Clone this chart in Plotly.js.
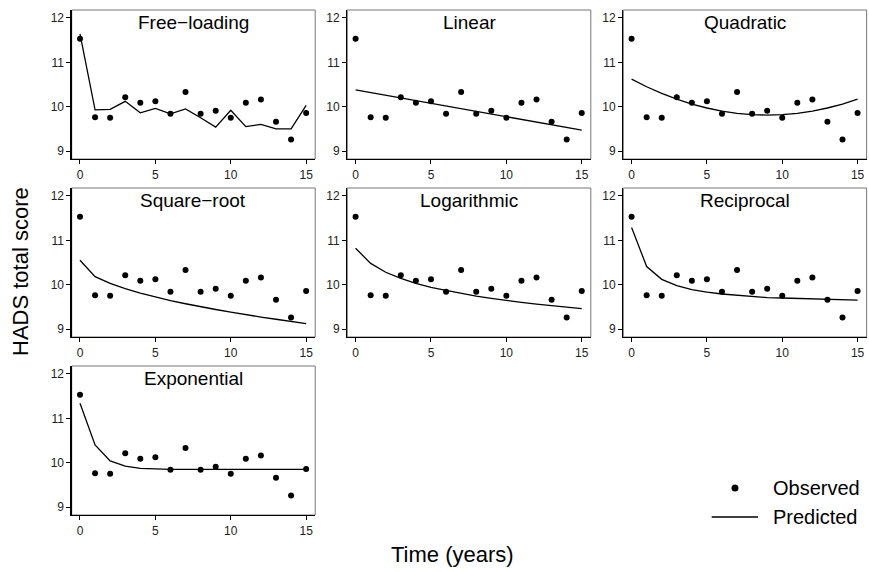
<!DOCTYPE html>
<html>
<head>
<meta charset="utf-8">
<script src="https://cdn.plot.ly/plotly-3.0.1.min.js"></script>
<style>html,body{margin:0;padding:0;background:#fff;}#chart{width:869px;height:572px;}</style>
</head>
<body>
<div id="chart"></div>
<script>
// ---- data ----
const years = [0,1,2,3,4,5,6,7,8,9,10,11,12,13,14,15];
const observed = [11.53,9.76,9.75,10.21,10.09,10.12,9.84,10.33,9.84,9.91,9.75,10.09,10.16,9.66,9.26,9.86];
const panelTitles = ["Free\u2212loading","Linear","Quadratic","Square\u2212root","Logarithmic","Reciprocal","Exponential"];
const predFreeLoading = [11.64,9.93,9.94,10.12,9.86,9.96,9.84,9.95,9.75,9.54,9.92,9.55,9.60,9.50,9.50,10.03];
const predLinear      = [10.38,10.32,10.26,10.20,10.14,10.08,10.02,9.96,9.90,9.83,9.77,9.71,9.65,9.59,9.53,9.47];
const predQuadratic   = [10.62,10.45,10.30,10.17,10.06,9.97,9.90,9.85,9.82,9.81,9.82,9.85,9.90,9.97,10.06,10.17];
const predSqrt        = [10.55,10.18,10.03,9.91,9.81,9.72,9.64,9.57,9.50,9.44,9.38,9.32,9.27,9.22,9.17,9.12];
const predLog         = [10.82,10.48,10.28,10.14,10.03,9.94,9.87,9.80,9.74,9.69,9.64,9.60,9.56,9.53,9.49,9.46];
const predReciprocal  = [11.29,10.41,10.12,9.98,9.89,9.83,9.79,9.76,9.73,9.71,9.70,9.69,9.67,9.66,9.66,9.65];
const predExponential = [11.34,10.40,10.04,9.92,9.87,9.855,9.85,9.85,9.85,9.85,9.85,9.85,9.85,9.85,9.85,9.85];
const predicted = [predFreeLoading,predLinear,predQuadratic,predSqrt,predLog,predReciprocal,predExponential];
const xTicks = [0,5,10,15];
const yTicks = [9,10,11,12];
const legendLabels = ["Observed","Predicted"];
const yTitle = "HADS total score";
const xTitle = "Time (years)";

// ---- layout geometry (pixels) ----
const W = 869, H = 572;
const colsPx = [[71.7,315.2],[347.3,590.8],[623.3,866.6]];
const rowsPx = [[10,159],[188,337],[366,515]];
const FONT = "Liberation Sans, Arial, Helvetica, sans-serif";

const traces = [];
const layout = {
  width: W, height: H,
  margin: {l:0,r:0,t:0,b:0},
  paper_bgcolor: "#fff", plot_bgcolor: "#fff",
  showlegend: false,
  font: {family: FONT, color: "#000"},
  shapes: [], annotations: []
};

panelTitles.forEach((title, i) => {
  const r = Math.floor(i/3), c = i%3;
  const sfx = i===0 ? "" : String(i+1);
  const xa = "x"+sfx, ya = "y"+sfx;
  const xd = [colsPx[c][0]/W, colsPx[c][1]/W];
  const yd = [1-rowsPx[r][1]/H, 1-rowsPx[r][0]/H];
  layout["xaxis"+sfx] = {
    domain: xd, anchor: ya, range: [-0.55,15.6],
    tickvals: xTicks, ticktext: xTicks.map(String),
    ticks: "outside", ticklen: 4, tickwidth: 1, tickcolor: "#000",
    showline: true, linecolor: "#000", linewidth: 1.3,
    showgrid: false, zeroline: false, fixedrange: true,
    tickfont: {family: FONT, size: 12, color: "#222"}
  };
  layout["yaxis"+sfx] = {
    domain: yd, anchor: xa, range: [8.82,12.18],
    tickvals: yTicks, ticktext: yTicks.map(String),
    ticks: "outside", ticklen: 4, tickwidth: 1, tickcolor: "#000",
    showline: true, linecolor: "#000", linewidth: 1.3,
    showgrid: false, zeroline: false, fixedrange: true,
    tickfont: {family: FONT, size: 12, color: "#222"}
  };
  layout.shapes.push({type:"rect", xref: xa+" domain", yref: ya+" domain",
    x0:0, x1:1, y0:0, y1:1, line:{color:"#777", width:1}, layer:"below"});
  layout.annotations.push({text: title, xref: xa+" domain", yref: ya+" domain",
    x:0.5, y:1, xanchor:"center", yanchor:"top", yshift:0, showarrow:false,
    font:{family: FONT, size: 19, color:"#000"}});
  traces.push({type:"scatter", mode:"markers", x: years, y: observed, xaxis: xa, yaxis: ya,
    name: legendLabels[0], marker:{color:"#000", size:6}, hoverinfo:"skip"});
  traces.push({type:"scatter", mode:"lines", x: years, y: predicted[i], xaxis: xa, yaxis: ya,
    name: legendLabels[1], line:{color:"#000", width:1.3}, hoverinfo:"skip"});
});

// axis titles
layout.annotations.push({text: yTitle, xref:"paper", yref:"paper", x: 20/W, y: 1-272/H,
  xanchor:"center", yanchor:"middle", textangle:-90, showarrow:false,
  font:{family: FONT, size: 22, color:"#000"}});
layout.annotations.push({text: xTitle, xref:"paper", yref:"paper", x: 452/W, y: 1-554/H,
  xanchor:"center", yanchor:"middle", showarrow:false,
  font:{family: FONT, size: 22, color:"#000"}});

// legend (drawn manually)
layout.shapes.push({type:"circle", xref:"paper", yref:"paper",
  x0:(735-3.5)/W, x1:(735+3.5)/W, y0:1-(488+3.5)/H, y1:1-(488-3.5)/H,
  fillcolor:"#000", line:{color:"#000", width:0}});
layout.shapes.push({type:"line", xref:"paper", yref:"paper",
  x0:711.7/W, x1:758/W, y0:1-517/H, y1:1-517/H, line:{color:"#000", width:1.3}});
layout.annotations.push({text: legendLabels[0], xref:"paper", yref:"paper", x: 771/W, y: 1-488/H,
  xanchor:"left", yanchor:"middle", showarrow:false, font:{family: FONT, size: 20, color:"#000"}});
layout.annotations.push({text: legendLabels[1], xref:"paper", yref:"paper", x: 771/W, y: 1-517/H,
  xanchor:"left", yanchor:"middle", showarrow:false, font:{family: FONT, size: 20, color:"#000"}});

Plotly.newPlot("chart", traces, layout, {staticPlot:true, displayModeBar:false});
</script>
</body>
</html>
